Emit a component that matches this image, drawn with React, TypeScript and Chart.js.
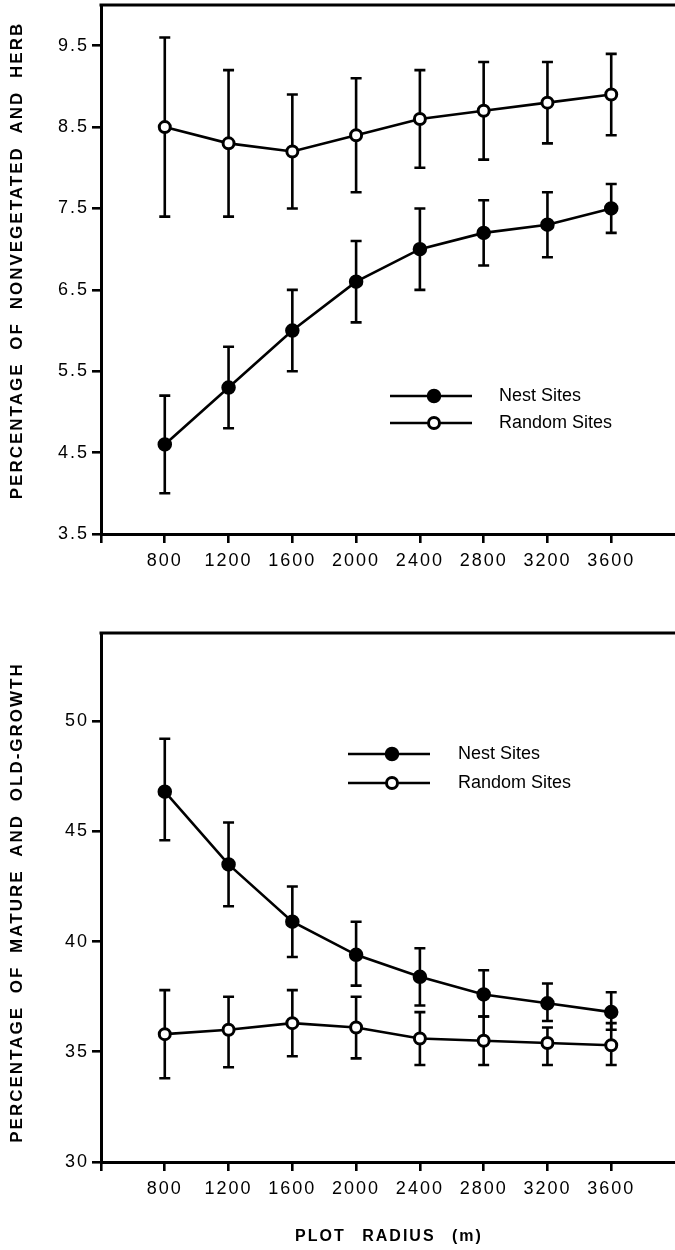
import React, { useEffect, useRef } from 'react';
import { Chart, registerables } from 'chart.js';

Chart.register(...registerables);

// ---------- data ----------
const plotRadius = [800, 1200, 1600, 2000, 2400, 2800, 3200, 3600];
const xTickValues = [400, 800, 1200, 1600, 2000, 2400, 2800, 3200, 3600];
const xTickLabels = ['', '800', '1200', '1600', '2000', '2400', '2800', '3200', '3600'];

// Top panel: nonvegetated and herb
const topYTicks = [3.5, 4.5, 5.5, 6.5, 7.5, 8.5, 9.5];
const topNest = [4.6, 5.3, 6.0, 6.6, 7.0, 7.2, 7.3, 7.5];
const topNestLow = [4.0, 4.8, 5.5, 6.1, 6.5, 6.8, 6.9, 7.2];
const topNestHigh = [5.2, 5.8, 6.5, 7.1, 7.5, 7.6, 7.7, 7.8];
const topRandom = [8.5, 8.3, 8.2, 8.4, 8.6, 8.7, 8.8, 8.9];
const topRandomLow = [7.4, 7.4, 7.5, 7.7, 8.0, 8.1, 8.3, 8.4];
const topRandomHigh = [9.6, 9.2, 8.9, 9.1, 9.2, 9.3, 9.3, 9.4];

// Bottom panel: mature and old-growth
const bottomYTicks = [30, 35, 40, 45, 50];
const botNest = [46.8, 43.5, 40.9, 39.4, 38.4, 37.6, 37.2, 36.8];
const botNestLow = [44.6, 41.6, 39.3, 38.0, 37.1, 36.6, 36.4, 36.0];
const botNestHigh = [49.2, 45.4, 42.5, 40.9, 39.7, 38.7, 38.1, 37.7];
const botRandom = [35.8, 36.0, 36.3, 36.1, 35.6, 35.5, 35.4, 35.3];
const botRandomLow = [33.8, 34.3, 34.8, 34.7, 34.4, 34.4, 34.4, 34.4];
const botRandomHigh = [37.8, 37.5, 37.8, 37.5, 36.8, 36.6, 36.1, 36.3];

const seriesNames = ['Nest Sites', 'Random Sites'];
const topYTitle = 'PERCENTAGE OF NONVEGETATED AND HERB';
const bottomYTitle = 'PERCENTAGE OF MATURE AND OLD-GROWTH';
const xTitle = 'PLOT RADIUS (m)';

// ---------- drawing helpers ----------
const FONT = '"Liberation Sans", Arial, Helvetica, sans-serif';

type PanelOpts = {
  yMin: number;
  yMax: number;
  yTicks: number[];
  yDecimals: number;
  padTop: number;
  xAxisHeight: number;
  nest: number[];
  nestLow: number[];
  nestHigh: number[];
  random: number[];
  randomLow: number[];
  randomHigh: number[];
  yTitle: string;
  yTitleShift: number;
  xTitle?: string;
  legend: { x0: number; x1: number; xm: number; y: number; dy: number; tx: number };
};

function makeChart(canvas: HTMLCanvasElement, p: PanelOpts) {
  const pts = (vals: number[]) => plotRadius.map((x, i) => ({ x, y: vals[i] }));

  const panelPlugin = {
    id: 'panelExtras',
    beforeDraw(chart: any) {
      chart.ctx.letterSpacing = '2px';
    },
    beforeDatasetsDraw(chart: any) {
      const ctx = chart.ctx;
      const xs = chart.scales.x;
      const ys = chart.scales.y;
      ctx.save();
      ctx.letterSpacing = '0px';
      ctx.strokeStyle = '#000';
      ctx.lineWidth = 2.6;
      ctx.lineCap = 'butt';
      const bars = [
        [p.nestLow, p.nestHigh],
        [p.randomLow, p.randomHigh],
      ];
      bars.forEach(([lo, hi]) => {
        plotRadius.forEach((r, i) => {
          const x = xs.getPixelForValue(r);
          const yl = ys.getPixelForValue(lo[i]);
          const yh = ys.getPixelForValue(hi[i]);
          ctx.beginPath();
          ctx.moveTo(x, yl);
          ctx.lineTo(x, yh);
          ctx.moveTo(x - 5.5, yl);
          ctx.lineTo(x + 5.5, yl);
          ctx.moveTo(x - 5.5, yh);
          ctx.lineTo(x + 5.5, yh);
          ctx.stroke();
        });
      });
      ctx.restore();
    },
    afterDraw(chart: any) {
      const ctx = chart.ctx;
      const ca = chart.chartArea;
      ctx.save();
      // top frame line
      ctx.strokeStyle = '#000';
      ctx.lineWidth = 3;
      ctx.beginPath();
      ctx.moveTo(ca.left - 1.5, ca.top);
      ctx.lineTo(ca.right, ca.top);
      ctx.stroke();

      // legend
      const L = p.legend;
      const styles = [
        { fill: '#000', r: 6, bw: 2.5 },
        { fill: '#fff', r: 5.5, bw: 3 },
      ];
      ctx.letterSpacing = '0px';
      ctx.font = `18px ${FONT}`;
      ctx.textAlign = 'left';
      ctx.textBaseline = 'middle';
      seriesNames.forEach((name, i) => {
        const y = L.y + i * L.dy;
        ctx.lineWidth = 2.6;
        ctx.strokeStyle = '#000';
        ctx.beginPath();
        ctx.moveTo(L.x0, y);
        ctx.lineTo(L.x1, y);
        ctx.stroke();
        ctx.beginPath();
        ctx.arc(L.xm, y, styles[i].r, 0, Math.PI * 2);
        ctx.fillStyle = styles[i].fill;
        ctx.fill();
        ctx.lineWidth = styles[i].bw;
        ctx.stroke();
        ctx.fillStyle = '#000';
        ctx.fillText(name, L.tx, y);
      });

      // y title
      ctx.font = `bold 17px ${FONT}`;
      ctx.letterSpacing = '2px';
      (ctx as any).wordSpacing = '6px';
      ctx.textAlign = 'center';
      ctx.textBaseline = 'middle';
      ctx.save();
      ctx.translate(17, (ca.top + ca.bottom) / 2 + p.yTitleShift);
      ctx.rotate(-Math.PI / 2);
      ctx.fillText(p.yTitle, 1, 0);
      ctx.restore();

      // x title
      if (p.xTitle) {
        ctx.font = `bold 16px ${FONT}`;
        ctx.letterSpacing = '2px';
        (ctx as any).wordSpacing = '10px';
        ctx.fillText(p.xTitle, (ca.left + ca.right) / 2 + 1, chart.height - 13);
      }
      ctx.restore();
    },
  };

  return new Chart(canvas, {
    type: 'line',
    data: {
      datasets: [
        {
          label: seriesNames[0],
          data: pts(p.nest),
          borderColor: '#000',
          borderWidth: 2.6,
          backgroundColor: '#000',
          pointBackgroundColor: '#000',
          pointBorderColor: '#000',
          pointRadius: 6,
          pointBorderWidth: 2.5,
          tension: 0,
          clip: false as any,
        },
        {
          label: seriesNames[1],
          data: pts(p.random),
          borderColor: '#000',
          borderWidth: 2.6,
          backgroundColor: '#fff',
          pointBackgroundColor: '#fff',
          pointBorderColor: '#000',
          pointRadius: 5.5,
          pointBorderWidth: 3,
          tension: 0,
          clip: false as any,
        },
      ],
    },
    options: {
      animation: false,
      responsive: false,
      devicePixelRatio: 1,
      events: [],
      layout: { autoPadding: false, padding: { top: p.padTop, left: 0, right: 0, bottom: 0 } },
      plugins: {
        legend: { display: false },
        tooltip: { enabled: false },
        title: { display: false },
      },
      scales: {
        x: {
          type: 'linear',
          min: 400,
          max: 4000,
          afterBuildTicks: (s: any) => {
            s.ticks = xTickValues.map((v) => ({ value: v }));
          },
          afterFit: (s: any) => {
            s.height = p.xAxisHeight;
            s.paddingLeft = 0;
            s.paddingRight = 0;
          },
          ticks: {
            color: '#000',
            font: { family: FONT, size: 18 },
            padding: 7,
            maxRotation: 0,
            autoSkip: false,
            callback: (_v: any, i: number) => xTickLabels[i],
          },
          grid: {
            drawOnChartArea: false,
            drawTicks: true,
            tickLength: 9,
            color: '#000',
            lineWidth: 2.6,
          },
          border: { display: true, color: '#000', width: 3 },
        },
        y: {
          type: 'linear',
          min: p.yMin,
          max: p.yMax,
          afterBuildTicks: (s: any) => {
            s.ticks = p.yTicks.map((v) => ({ value: v }));
          },
          afterFit: (s: any) => {
            s.width = 101;
            s.paddingTop = 0;
            s.paddingBottom = 0;
          },
          ticks: {
            color: '#000',
            font: { family: FONT, size: 18 },
            padding: 3,
            autoSkip: false,
            callback: (v: any) => Number(v).toFixed(p.yDecimals),
          },
          grid: {
            drawOnChartArea: false,
            drawTicks: true,
            tickLength: 9,
            color: '#000',
            lineWidth: 2.6,
          },
          border: { display: true, color: '#000', width: 3 },
        },
      },
    },
    plugins: [panelPlugin],
  } as any);
}

function Panel({ top, height, opts }: { top: number; height: number; opts: PanelOpts }) {
  const ref = useRef<HTMLCanvasElement | null>(null);
  useEffect(() => {
    if (!ref.current) return;
    const chart = makeChart(ref.current, opts);
    return () => chart.destroy();
  }, []);
  return (
    <canvas
      ref={ref}
      width={675}
      height={height}
      style={{ position: 'absolute', left: 0, top, width: 675, height, display: 'block' }}
    />
  );
}

export default function App() {
  const topOpts: PanelOpts = {
    yMin: 3.5,
    yMax: 10,
    yTicks: topYTicks,
    yDecimals: 1,
    padTop: 5,
    xAxisHeight: 620 - 534,
    nest: topNest,
    nestLow: topNestLow,
    nestHigh: topNestHigh,
    random: topRandom,
    randomLow: topRandomLow,
    randomHigh: topRandomHigh,
    yTitle: topYTitle,
    yTitleShift: -8,
    legend: { x0: 390, x1: 472, xm: 434, y: 396, dy: 27, tx: 499 },
  };
  const bottomOpts: PanelOpts = {
    yMin: 30,
    yMax: 54,
    yTicks: bottomYTicks,
    yDecimals: 0,
    padTop: 13,
    xAxisHeight: 630 - 542,
    nest: botNest,
    nestLow: botNestLow,
    nestHigh: botNestHigh,
    random: botRandom,
    randomLow: botRandomLow,
    randomHigh: botRandomHigh,
    yTitle: bottomYTitle,
    yTitleShift: 6,
    xTitle: xTitle,
    legend: { x0: 348, x1: 430, xm: 392, y: 134, dy: 29, tx: 458 },
  };
  return (
    <div style={{ position: 'absolute', left: 0, top: 0, width: 675, height: 1250, background: '#fff' }}>
      <Panel top={0} height={620} opts={topOpts} />
      <Panel top={620} height={630} opts={bottomOpts} />
    </div>
  );
}
